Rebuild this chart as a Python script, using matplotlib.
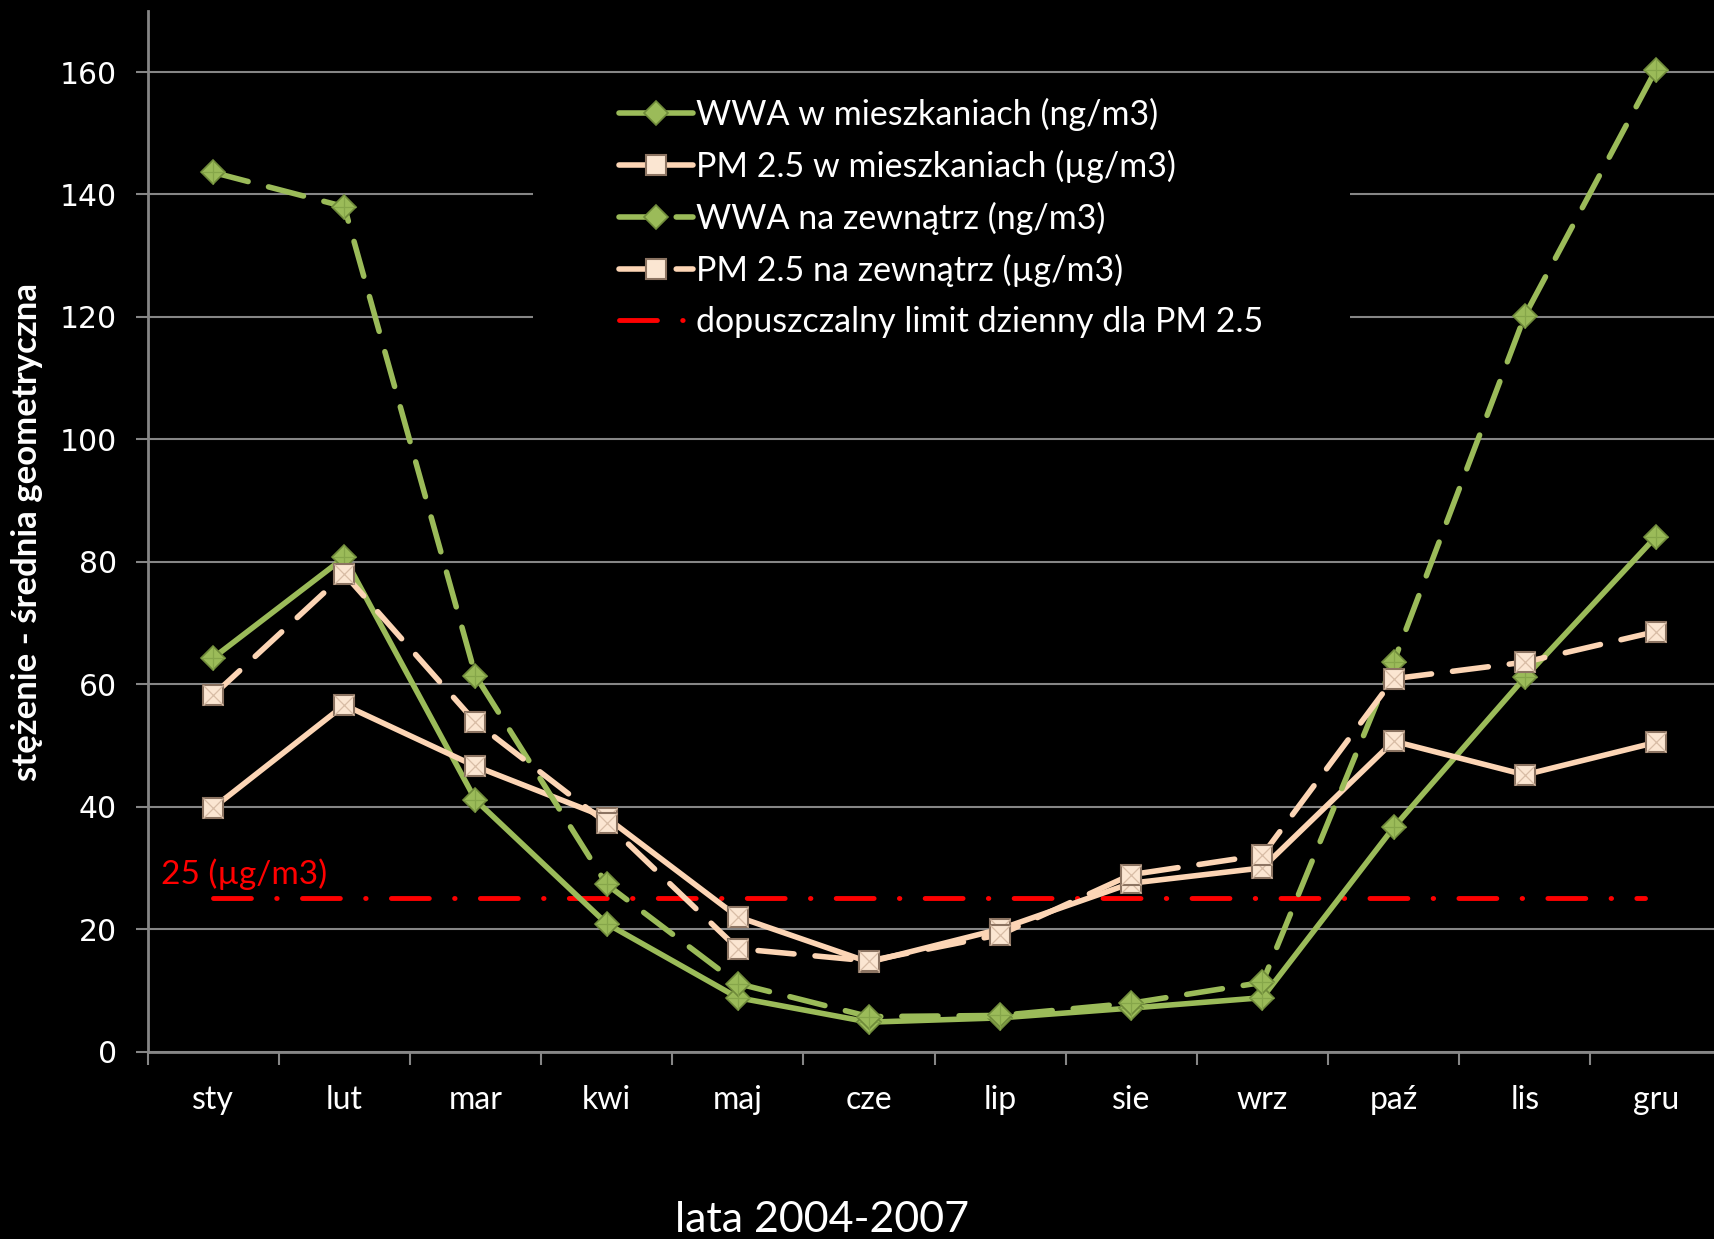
import numpy as np
import matplotlib
matplotlib.use('Agg')
import matplotlib.pyplot as plt
from matplotlib.lines import Line2D
from matplotlib.patches import Rectangle

# Miesiące i średnie geometryczne stężeń
miesiace = ['sty', 'lut', 'mar', 'kwi', 'maj', 'cze', 'lip', 'sie', 'wrz', 'paź', 'lis', 'gru']
wwa_mieszk = [64.3, 80.7, 41.1, 20.9, 8.8, 4.8, 5.5, 7.1, 8.8, 36.6, 61.1, 84.1]
pm_mieszk = [39.8, 56.6, 46.6, 38.2, 22.0, 14.6, 20.0, 27.5, 30.0, 50.7, 45.2, 50.5]
wwa_zewn = [143.6, 138.0, 61.4, 27.3, 11.1, 5.7, 5.9, 7.9, 11.3, 63.6, 120.2, 160.4]
pm_zewn = [58.2, 78.0, 53.8, 37.3, 16.8, 14.8, 19.1, 28.9, 32.1, 60.9, 63.6, 68.6]
limit_pm = 25

ZIELONY = '#9bbb59'
ZIELONY_KRAW = '#6f8a3a'
BRZOSKWINIA = '#fcd5b5'
KWADRAT = '#fbe6d2'
KWADRAT_KRAW = '#8c7462'
SIATKA = '#868686'
LIM_DASH = [7.8, 5.2, 0.1, 5.2]

fig = plt.figure(figsize=(17.14, 12.39), dpi=100, facecolor='black')
ax = fig.add_axes([0.0861, 0.1513, 0.9183, 0.840], facecolor='black')

x = np.arange(len(miesiace))

def seria(y, kolor, styl, marker):
    if marker == 'D':
        mk = dict(marker='D', markersize=12.5, markerfacecolor=ZIELONY,
                  markeredgecolor=ZIELONY_KRAW, markeredgewidth=1.2)
    else:
        mk = dict(marker='s', markersize=15, markerfacecolor=KWADRAT,
                  markeredgecolor=KWADRAT_KRAW, markeredgewidth=1.5)
    ln, = ax.plot(x, y, color=kolor, lw=4, solid_capstyle='round',
                  dash_capstyle='round', zorder=3, **mk)
    if styl == 'dash':
        ln.set_dashes([6.5, 3.8])
    # wypukłe znaczniki - delikatne krawędzie ścianek
    if marker == 'D':
        ax.plot(x, y, ls='none', marker='+', markersize=17, color='#86a64a',
                markeredgewidth=0.9, zorder=3)
    else:
        ax.plot(x, y, ls='none', marker='x', markersize=14, color='#d8bda6',
                markeredgewidth=0.9, zorder=3)
    return ln

l1 = seria(wwa_mieszk, ZIELONY, 'solid', 'D')
l2 = seria(pm_mieszk, BRZOSKWINIA, 'solid', 's')
l3 = seria(wwa_zewn, ZIELONY, 'dash', 'D')
l4 = seria(pm_zewn, BRZOSKWINIA, 'dash', 's')

# dopuszczalny limit dzienny
lim, = ax.plot([x[0], x[-1] - 0.08], [limit_pm, limit_pm], color='#ff0000', lw=3.5,
               dash_capstyle='round', zorder=2)
lim.set_dashes(LIM_DASH)
ax.text(-0.4, 28.9, '25 (µg/m3)', color='#ff0000', fontsize=24,
        family='Lato', va='center', ha='left')

ax.set_xlim(-0.5, 11.5)
ax.set_ylim(0, 170)
ax.set_yticks(np.arange(0, 161, 20))
ax.set_xticks(x)
ax.set_xticklabels(miesiace, fontsize=23, family='Lato', color='white')
ax.set_xticks(np.arange(-0.5, 12, 1), minor=True)
ax.tick_params(axis='x', which='major', length=0, pad=24)
ax.tick_params(axis='x', which='minor', length=9, width=1.5, color=SIATKA)
ax.tick_params(axis='y', length=9, width=1.5, color=SIATKA, labelsize=21.5,
               labelcolor='white', pad=13)
for t in ax.get_yticklabels():
    t.set_family('DejaVu Sans')

ax.grid(axis='y', color=SIATKA, lw=1.5, zorder=0)
ax.set_axisbelow(True)
for s in ['top', 'right']:
    ax.spines[s].set_visible(False)
for s in ['left', 'bottom']:
    ax.spines[s].set_color(SIATKA)
    ax.spines[s].set_linewidth(2)

# czarne tło pod legendą zasłania siatkę
ax.add_patch(Rectangle((0.3112, 0.7176), 0.4765, 0.2164, transform=fig.transFigure,
                       facecolor='black', edgecolor='none', zorder=1, clip_on=False))

fig.text(0.016, 0.5706, 'stężenie - średnia geometryczna', rotation=90, color='white',
         fontsize=25, fontweight='bold', family='Lato',
         ha='center', va='center')
fig.text(0.4797, 0.006, 'lata 2004-2007', color='white', fontsize=31,
         family='Lato', ha='center', va='baseline')

uchwyt_lim = Line2D([0], [0], color='#ff0000', lw=3.5, dash_capstyle='round')
uchwyt_lim.set_dashes(LIM_DASH)
leg = ax.legend([l1, l2, l3, l4, uchwyt_lim],
                ['WWA w mieszkaniach (ng/m3)', 'PM 2.5 w mieszkaniach (µg/m3)',
                 'WWA na zewnątrz (ng/m3)', 'PM 2.5 na zewnątrz (µg/m3)',
                 'dopuszczalny limit dzienny dla PM 2.5'],
                loc='upper left', bbox_to_anchor=(0.3432, 0.9458), bbox_transform=fig.transFigure,
                frameon=False, handlelength=2.17, handletextpad=0.1, labelspacing=0.555,
                borderpad=0.4, prop={'family': 'Lato', 'size': 24.5})
for t in leg.get_texts():
    t.set_color('white')
leg.set_zorder(5)

fig.savefig('out.png', dpi=100, facecolor='black')
